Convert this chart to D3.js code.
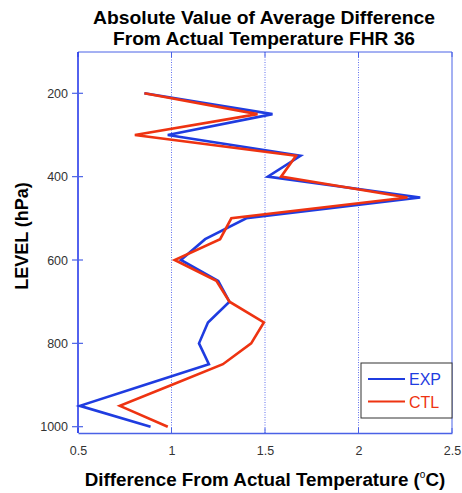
<!DOCTYPE html>
<html><head><meta charset="utf-8">
<script src="https://cdn.jsdelivr.net/npm/d3@7"></script>
<style>body{margin:0;background:#fff}svg{display:block}</style>
</head><body>
<svg id="c" width="462" height="493"></svg>
<script>
const levels = [200,250,300,350,400,450,500,550,600,650,700,750,800,850,900,950,1000];
const exp = [0.855,1.54,0.98,1.69,1.515,2.33,1.40,1.18,1.05,1.25,1.31,1.195,1.147,1.20,0.855,0.51,0.888];
const ctl = [0.855,1.46,0.804,1.666,1.586,2.262,1.32,1.26,1.017,1.24,1.31,1.494,1.426,1.275,1.0,0.724,0.98];
const xTicks = [0.5,1,1.5,2,2.5];
const yTicks = [200,400,600,800,1000];
const seriesNames = ["EXP","CTL"];
const colors = ["#1f3ce0","#ee3311"];

const svg = d3.select("#c");
const L=78, R=452, T=52, B=433;
const x = d3.scaleLinear().domain([0.5,2.5]).range([L,R]);
const y = d3.scaleLinear().domain([200,1000]).range([93.3,426.7]);
const axisCol = "#4a62e6";
const tf = "Arial, Liberation Sans, sans-serif";

// grid
svg.append("g").selectAll("line").data(xTicks.slice(1,-1)).join("line")
  .attr("x1",d=>x(d)).attr("x2",d=>x(d)).attr("y1",T).attr("y2",B)
  .attr("stroke","#6070ee").attr("stroke-width",1).attr("stroke-dasharray","1,1.5");

// box
svg.append("line").attr("x1",L).attr("x2",R).attr("y1",T).attr("y2",T).attr("stroke",axisCol);
svg.append("line").attr("x1",R).attr("x2",R).attr("y1",T).attr("y2",B).attr("stroke",axisCol);

const xa = svg.append("g").attr("transform",`translate(0,${B})`)
  .call(d3.axisBottom(x).tickValues(xTicks).tickFormat(d3.format("")).tickSize(0).tickPadding(13));
xa.select(".domain").attr("stroke",axisCol).attr("stroke-width",1.5);
xa.selectAll("text").attr("font-family",tf).attr("font-size",12.5).attr("fill","#333");
svg.append("g").selectAll("line").data(xTicks).join("line")
  .attr("x1",d=>x(d)).attr("x2",d=>x(d)).attr("y1",B).attr("y2",B-5).attr("stroke",axisCol);
svg.append("g").selectAll("line").data(xTicks).join("line")
  .attr("x1",d=>x(d)).attr("x2",d=>x(d)).attr("y1",T).attr("y2",T+5).attr("stroke",axisCol);

const ya = svg.append("g").attr("transform",`translate(${L},0)`)
  .call(d3.axisLeft(y).tickValues(yTicks).tickFormat(d3.format("d")).tickSize(0).tickPadding(10));
ya.select(".domain").remove();
svg.append("line").attr("x1",L).attr("x2",L).attr("y1",T).attr("y2",B).attr("stroke","#1a2ee8").attr("stroke-width",1.5);
ya.selectAll("text").attr("font-family",tf).attr("font-size",12.5).attr("fill","#333");
svg.append("g").selectAll("line").data(yTicks).join("line")
  .attr("x1",L-6).attr("x2",L+5).attr("y1",d=>y(d)).attr("y2",d=>y(d)).attr("stroke",axisCol).attr("stroke-width",1.2);

// lines
const line = d3.line().x(d=>x(d[0])).y(d=>y(d[1]));
[exp,ctl].forEach((s,i)=>{
  svg.append("path").datum(s.map((v,j)=>[v,levels[j]]))
    .attr("d",line).attr("fill","none").attr("stroke",colors[i]).attr("stroke-width",2.6).attr("stroke-linejoin","miter");
});

// legend
const lg = svg.append("g");
lg.append("rect").attr("x",361).attr("y",363).attr("width",91).attr("height",55)
  .attr("fill","#fff").attr("stroke","#333").attr("stroke-width",1);
seriesNames.forEach((n,i)=>{
  const yy = 379 + i*22.5;
  lg.append("line").attr("x1",368).attr("x2",405).attr("y1",yy).attr("y2",yy).attr("stroke",colors[i]).attr("stroke-width",2);
  lg.append("text").attr("x",409).attr("y",yy+6).text(n).attr("fill",colors[i])
    .attr("font-family",tf).attr("font-size",16);
});

// titles
svg.append("text").attr("x",264).attr("y",24).attr("text-anchor","middle").attr("font-family",tf)
  .attr("font-weight","bold").attr("font-size",18).attr("textLength",342).attr("lengthAdjust","spacingAndGlyphs")
  .text("Absolute Value of Average Difference");
svg.append("text").attr("x",264).attr("y",45).attr("text-anchor","middle").attr("font-family",tf)
  .attr("font-weight","bold").attr("font-size",18).attr("textLength",302).attr("lengthAdjust","spacingAndGlyphs")
  .text("From Actual Temperature FHR 36");
const xl = svg.append("text").attr("x",265).attr("y",486).attr("text-anchor","middle").attr("font-family",tf)
  .attr("font-weight","bold").attr("font-size",18.8);
xl.append("tspan").text("Difference From Actual Temperature (");
xl.append("tspan").text("o").attr("font-size",10).attr("font-weight","normal").attr("dy",-8);
xl.append("tspan").text("C)").attr("dy",8);
svg.append("text").attr("transform","translate(28,236) rotate(-90)").attr("text-anchor","middle")
  .attr("font-family",tf).attr("font-weight","bold").attr("font-size",18).text("LEVEL (hPa)");
</script>
</body></html>
